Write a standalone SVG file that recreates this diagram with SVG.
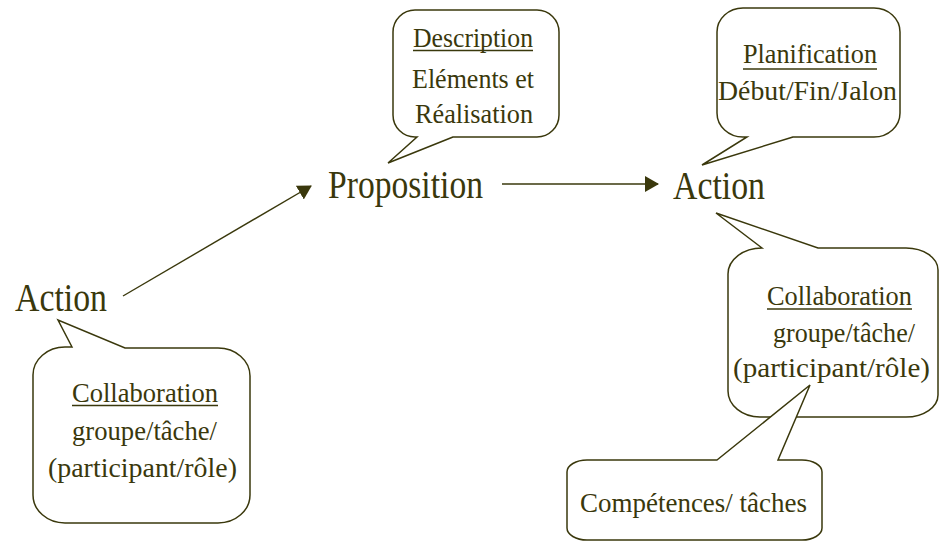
<svg xmlns="http://www.w3.org/2000/svg" width="939" height="542" viewBox="0 0 939 542">
<style>
.lbl{font-family:"Liberation Serif","Times New Roman",serif;fill:#3a380c;font-size:39px}
.ct{font-family:"Liberation Serif","Times New Roman",serif;fill:#3a380c;font-size:27px}
.bub{fill:#fff;stroke:#3a380c;stroke-width:1.5;stroke-linejoin:miter}
.ul{stroke:#3a380c;stroke-width:1.6}
.conn{stroke:#3a380c;stroke-width:1.4;fill:none}
</style>
<defs>
<marker id="ah" viewBox="0 0 14 16" refX="13" refY="8" markerWidth="14" markerHeight="16" markerUnits="userSpaceOnUse" orient="auto">
<path d="M0,0 L14,8 L0,16 Z" fill="#3a380c"/>
</marker>
</defs>
<g id="connectors">
<line class="conn" x1="123" y1="296" x2="311" y2="186" marker-end="url(#ah)"/>
<line class="conn" x1="502" y1="184" x2="658" y2="184" marker-end="url(#ah)"/>
</g>
<g id="action-left">
<text class="lbl" x="15" y="311" textLength="92" lengthAdjust="spacingAndGlyphs">Action</text>
</g>
<g id="proposition">
<text class="lbl" x="328" y="198" textLength="155" lengthAdjust="spacingAndGlyphs">Proposition</text>
</g>
<g id="action-right">
<text class="lbl" x="673" y="199" textLength="92" lengthAdjust="spacingAndGlyphs">Action</text>
</g>
<g id="callout-left">
<path class="bub" d="M72,347 L58,320 L125,348 L218,348 A32,28 0 0 1 250,376 L250,495 A32,28 0 0 1 218,523 L65,523 A32,28 0 0 1 33,495 L33,375 A32,28 0 0 1 65,347 Z"/>
<text class="ct" x="72" y="402" textLength="146" lengthAdjust="spacingAndGlyphs">Collaboration</text>
<line class="ul" x1="72" y1="405.5" x2="218" y2="405.5"/>
<text class="ct" x="72" y="440" textLength="145" lengthAdjust="spacingAndGlyphs">groupe/tâche/</text>
<text class="ct" x="48" y="477" textLength="189" lengthAdjust="spacingAndGlyphs">(participant/rôle)</text>
</g>
<g id="callout-description">
<path class="bub" d="M453,137 L388,163 L417,137 L415,137 A22,22 0 0 1 393,115 L393,32 A22,22 0 0 1 415,10 L537,10 A22,22 0 0 1 559,32 L559,115 A22,22 0 0 1 537,137 Z"/>
<text class="ct" x="413" y="47" textLength="120" lengthAdjust="spacingAndGlyphs">Description</text>
<line class="ul" x1="413" y1="50.5" x2="533" y2="50.5"/>
<text class="ct" x="412" y="88" textLength="122" lengthAdjust="spacingAndGlyphs">Eléments et</text>
<text class="ct" x="415" y="123" textLength="118" lengthAdjust="spacingAndGlyphs">Réalisation</text>
</g>
<g id="callout-planification">
<path class="bub" d="M793,137 L702,165 L747,137 L743,137 A26,24 0 0 1 717,113 L717,32 A26,24 0 0 1 743,8 L874,8 A26,24 0 0 1 900,32 L900,113 A26,24 0 0 1 874,137 Z"/>
<text class="ct" x="743" y="63" textLength="134" lengthAdjust="spacingAndGlyphs">Planification</text>
<line class="ul" x1="743" y1="69" x2="877" y2="69"/>
<text class="ct" x="718" y="100" textLength="179" lengthAdjust="spacingAndGlyphs">Début/Fin/Jalon</text>
</g>
<g id="callout-collab-right">
<path class="bub" d="M762,248 L716,213 L818,248 L906,248 A32,22 0 0 1 938,270 L938,395 A32,22 0 0 1 906,417 L760,417 A32,26 0 0 1 728,391 L728,274 A34,26 0 0 1 762,248 Z"/>
<text class="ct" x="767" y="305" textLength="145" lengthAdjust="spacingAndGlyphs">Collaboration</text>
<line class="ul" x1="767" y1="309" x2="912" y2="309"/>
<text class="ct" x="773" y="342" textLength="142" lengthAdjust="spacingAndGlyphs">groupe/tâche/</text>
<text class="ct" x="733" y="377" textLength="197" lengthAdjust="spacingAndGlyphs">(participant/rôle)</text>
</g>
<g id="callout-competences">
<path class="bub" d="M717,460 L810,385 L778,460 L802,460 A20,12 0 0 1 822,472 L822,528 A20,12 0 0 1 802,540 L587,540 A20,12 0 0 1 567,528 L567,472 A20,12 0 0 1 587,460 Z"/>
<text class="ct" x="580" y="512" textLength="227" lengthAdjust="spacingAndGlyphs">Compétences/ tâches</text>
</g>
</svg>
